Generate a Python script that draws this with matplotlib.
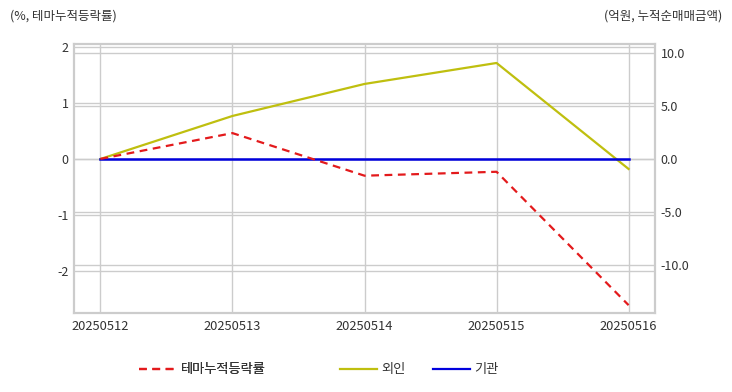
import matplotlib
matplotlib.use("Agg")
import matplotlib.pyplot as plt
from matplotlib.lines import Line2D

plt.rcParams['font.family'] = ['Noto Sans CJK KR', 'DejaVu Sans']
plt.rcParams['axes.unicode_minus'] = False

dates = ['20250512', '20250513', '20250514', '20250515', '20250516']
theme_rate = [0.0, 0.46, -0.30, -0.23, -2.61]   # 테마누적등락률 (%)
foreign = [0.0, 4.06, 7.08, 9.06, -0.94]        # 외인 (억원)
institution = [0.0, 0.0, 0.0, 0.0, 0.0]         # 기관 (억원)

grid_c = '#cccccc'
text_c = '#333333'
red = '#e31a1c'
olive = '#bfbf0f'
blue = '#0000dd'

fig = plt.figure(figsize=(7.32, 3.92), dpi=100)
ax = fig.add_axes([74 / 732, 1 - 313 / 392, (655 - 74) / 732, (313 - 44) / 392])
ax2 = ax.twinx()

x = list(range(len(dates)))
ax.set_xlim(-0.2, 4.2)
ax.set_ylim(-2.75, 2.05)
ax2.set_ylim(-14.53, 10.85)

# every line lives on the top axes so no grid crosses it; theme line uses left scale
ax2.plot(x, foreign, color=olive, lw=1.6, zorder=3)
ax2.plot(x, institution, color=blue, lw=1.8, zorder=4)
ax2.plot(x, theme_rate, color=red, lw=1.6, ls=(0, (3.5, 2.5)), zorder=5, transform=ax.transData)

ax.set_xticks(x)
ax.set_xticklabels(dates)
ax.set_yticks([-2, -1, 0, 1, 2])
ax2.set_yticks([-10, -5, 0, 5, 10])
ax2.set_yticklabels(['-10.0', '-5.0', '0.0', '5.0', '10.0'])

for a in (ax, ax2):
    a.grid(True, color=grid_c, lw=1)
    a.set_axisbelow(True)
    a.tick_params(length=0, labelsize=9, colors=text_c, pad=4)
    for s in a.spines.values():
        s.set_color(grid_c)
        s.set_linewidth(1.5)
ax2.grid(axis='x', visible=False)
ax.tick_params(axis='x', pad=5, labelsize=9.3)

fig.text(10 / 732, 1 - 16 / 392, '(%, 테마누적등락률)', fontsize=9, color=text_c, va='center', ha='left')
fig.text(722 / 732, 1 - 16 / 392, '(억원, 누적순매매금액)', fontsize=9, color=text_c, va='center', ha='right')

h1 = [Line2D([], [], color=red, lw=1.6, ls=(0, (3.5, 2.5)))]
h2 = [Line2D([], [], color=olive, lw=1.6), Line2D([], [], color=blue, lw=1.6)]
leg1 = fig.legend(h1, ['테마누적등락률'], loc='center left', bbox_to_anchor=(127 / 732, 1 - 370 / 392),
                  frameon=False, fontsize=9.5, handlelength=2.8, handletextpad=0.35, labelcolor=text_c)
leg2 = fig.legend(h2, ['외인', '기관'], loc='center left', bbox_to_anchor=(328 / 732, 1 - 370 / 392),
                  frameon=False, fontsize=9.5, handlelength=2.8, handletextpad=0.35, ncol=2,
                  columnspacing=2.05, labelcolor=text_c)
fig.add_artist(leg1)

fig.savefig('out.png', dpi=100)
